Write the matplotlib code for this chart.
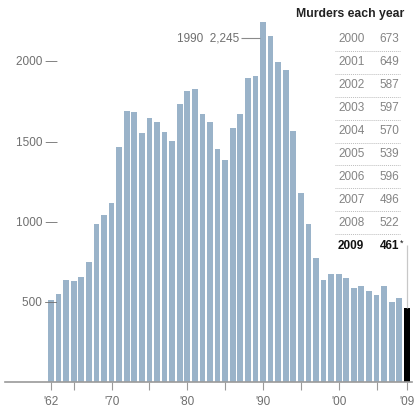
import matplotlib
matplotlib.use('Agg')
import matplotlib.pyplot as plt

# NYC murders per year, 1962-2009 (2009 preliminary)
years = list(range(1962, 2010))
murders = [508, 548, 636, 631, 653, 746, 986, 1043, 1117, 1466,
           1691, 1680, 1554, 1645, 1622, 1557, 1504, 1733, 1814, 1826,
           1668, 1622, 1450, 1384, 1582, 1672, 1896, 1905, 2245, 2154,
           1995, 1946, 1561, 1177, 983, 770, 633, 671, 673, 649,
           587, 597, 570, 539, 596, 496, 522, 461]

ytick_vals = [500, 1000, 1500, 2000]
xtick_vals = [1962, 1965, 1970, 1975, 1980, 1985, 1990, 1995, 2000, 2005, 2009]
xtick_labels = ["'62", '', "'70", '', "'80", '', "'90", '', "'00", '', "'09"]

table_title = 'Murders each year'
table_years = [str(y) for y in years[-10:]]
table_vals = [str(v) for v in murders[-10:]]

peak_year = 1990
peak_val = 2245

BAR = '#9ab3c9'
GREY = '#6f6f6f'
W, H = 417, 409

plt.rcParams['font.family'] = ['Liberation Sans', 'DejaVu Sans']

fig = plt.figure(figsize=(W / 100, H / 100), dpi=100)
# axes spans pixel x 5..412, baseline at pixel y 382
ax = fig.add_axes([5 / W, 27 / H, 407 / W, 382 / H])
ax.set_xlim(1955.92, 2009.69)
ax.set_ylim(0, 2380)

colors = [BAR] * (len(years) - 1) + ['black']
ax.bar(years, murders, width=0.76, color=colors, linewidth=0)

for side in ['top', 'right', 'left']:
    ax.spines[side].set_visible(False)
ax.spines['bottom'].set_color('#9a9a9a')
ax.spines['bottom'].set_linewidth(1.2)

ax.set_xticks(xtick_vals)
ax.set_xticklabels(xtick_labels)
ax.tick_params(axis='x', direction='out', length=6, width=0.8, color='#9a9a9a',
               labelsize=8.5, labelcolor=GREY, pad=4)

ax.set_yticks(ytick_vals)
ax.set_yticklabels([f'{v} \u2014' for v in ytick_vals])
ax.tick_params(axis='y', length=0, pad=-37.5, labelsize=8.5, labelcolor=GREY)

# peak annotation
ax.hlines(2141, 1987.1, peak_year - 0.4, color='#8a8a8a', lw=0.8)
ax.text(1986.9, 2141, f'{peak_year}  {peak_val:,}', ha='right', va='center',
        fontsize=8.5, color=GREY)

# leader line from the 2009 label down to the bar
ax.vlines(years[-1], murders[-1], 855, color='#c8c8c8', lw=0.9)


def fx(x):
    return x / W


def fy(y):
    return 1 - y / H


fig.text(fx(404), fy(14), table_title, ha='right', va='center',
         fontsize=8.8, fontweight='bold', color='#222222')

row0, step = 39.5, 22.9
for i, (yr, val) in enumerate(zip(table_years, table_vals)):
    y = row0 + i * step
    last = i == len(table_years) - 1
    col = '#111111' if last else '#848484'
    wt = 'bold' if last else 'normal'
    fig.text(fx(338), fy(y), yr, ha='left', va='center', fontsize=8.5,
             color=col, fontweight=wt)
    fig.text(fx(399), fy(y), val, ha='right', va='center',
             fontsize=8.5, color=col, fontweight=wt)
    if last:
        # preliminary figure marker
        fig.text(fx(400), fy(y - 2), '*', ha='left', va='center',
                 fontsize=6.5, color=col)
    else:
        sep = y + step / 2
        fig.add_artist(plt.Line2D([fx(335), fx(400)], [fy(sep), fy(sep)],
                                  color='#bdbdbd', lw=0.7, ls=(0, (1, 1))))

fig.savefig('out.png', dpi=100)
